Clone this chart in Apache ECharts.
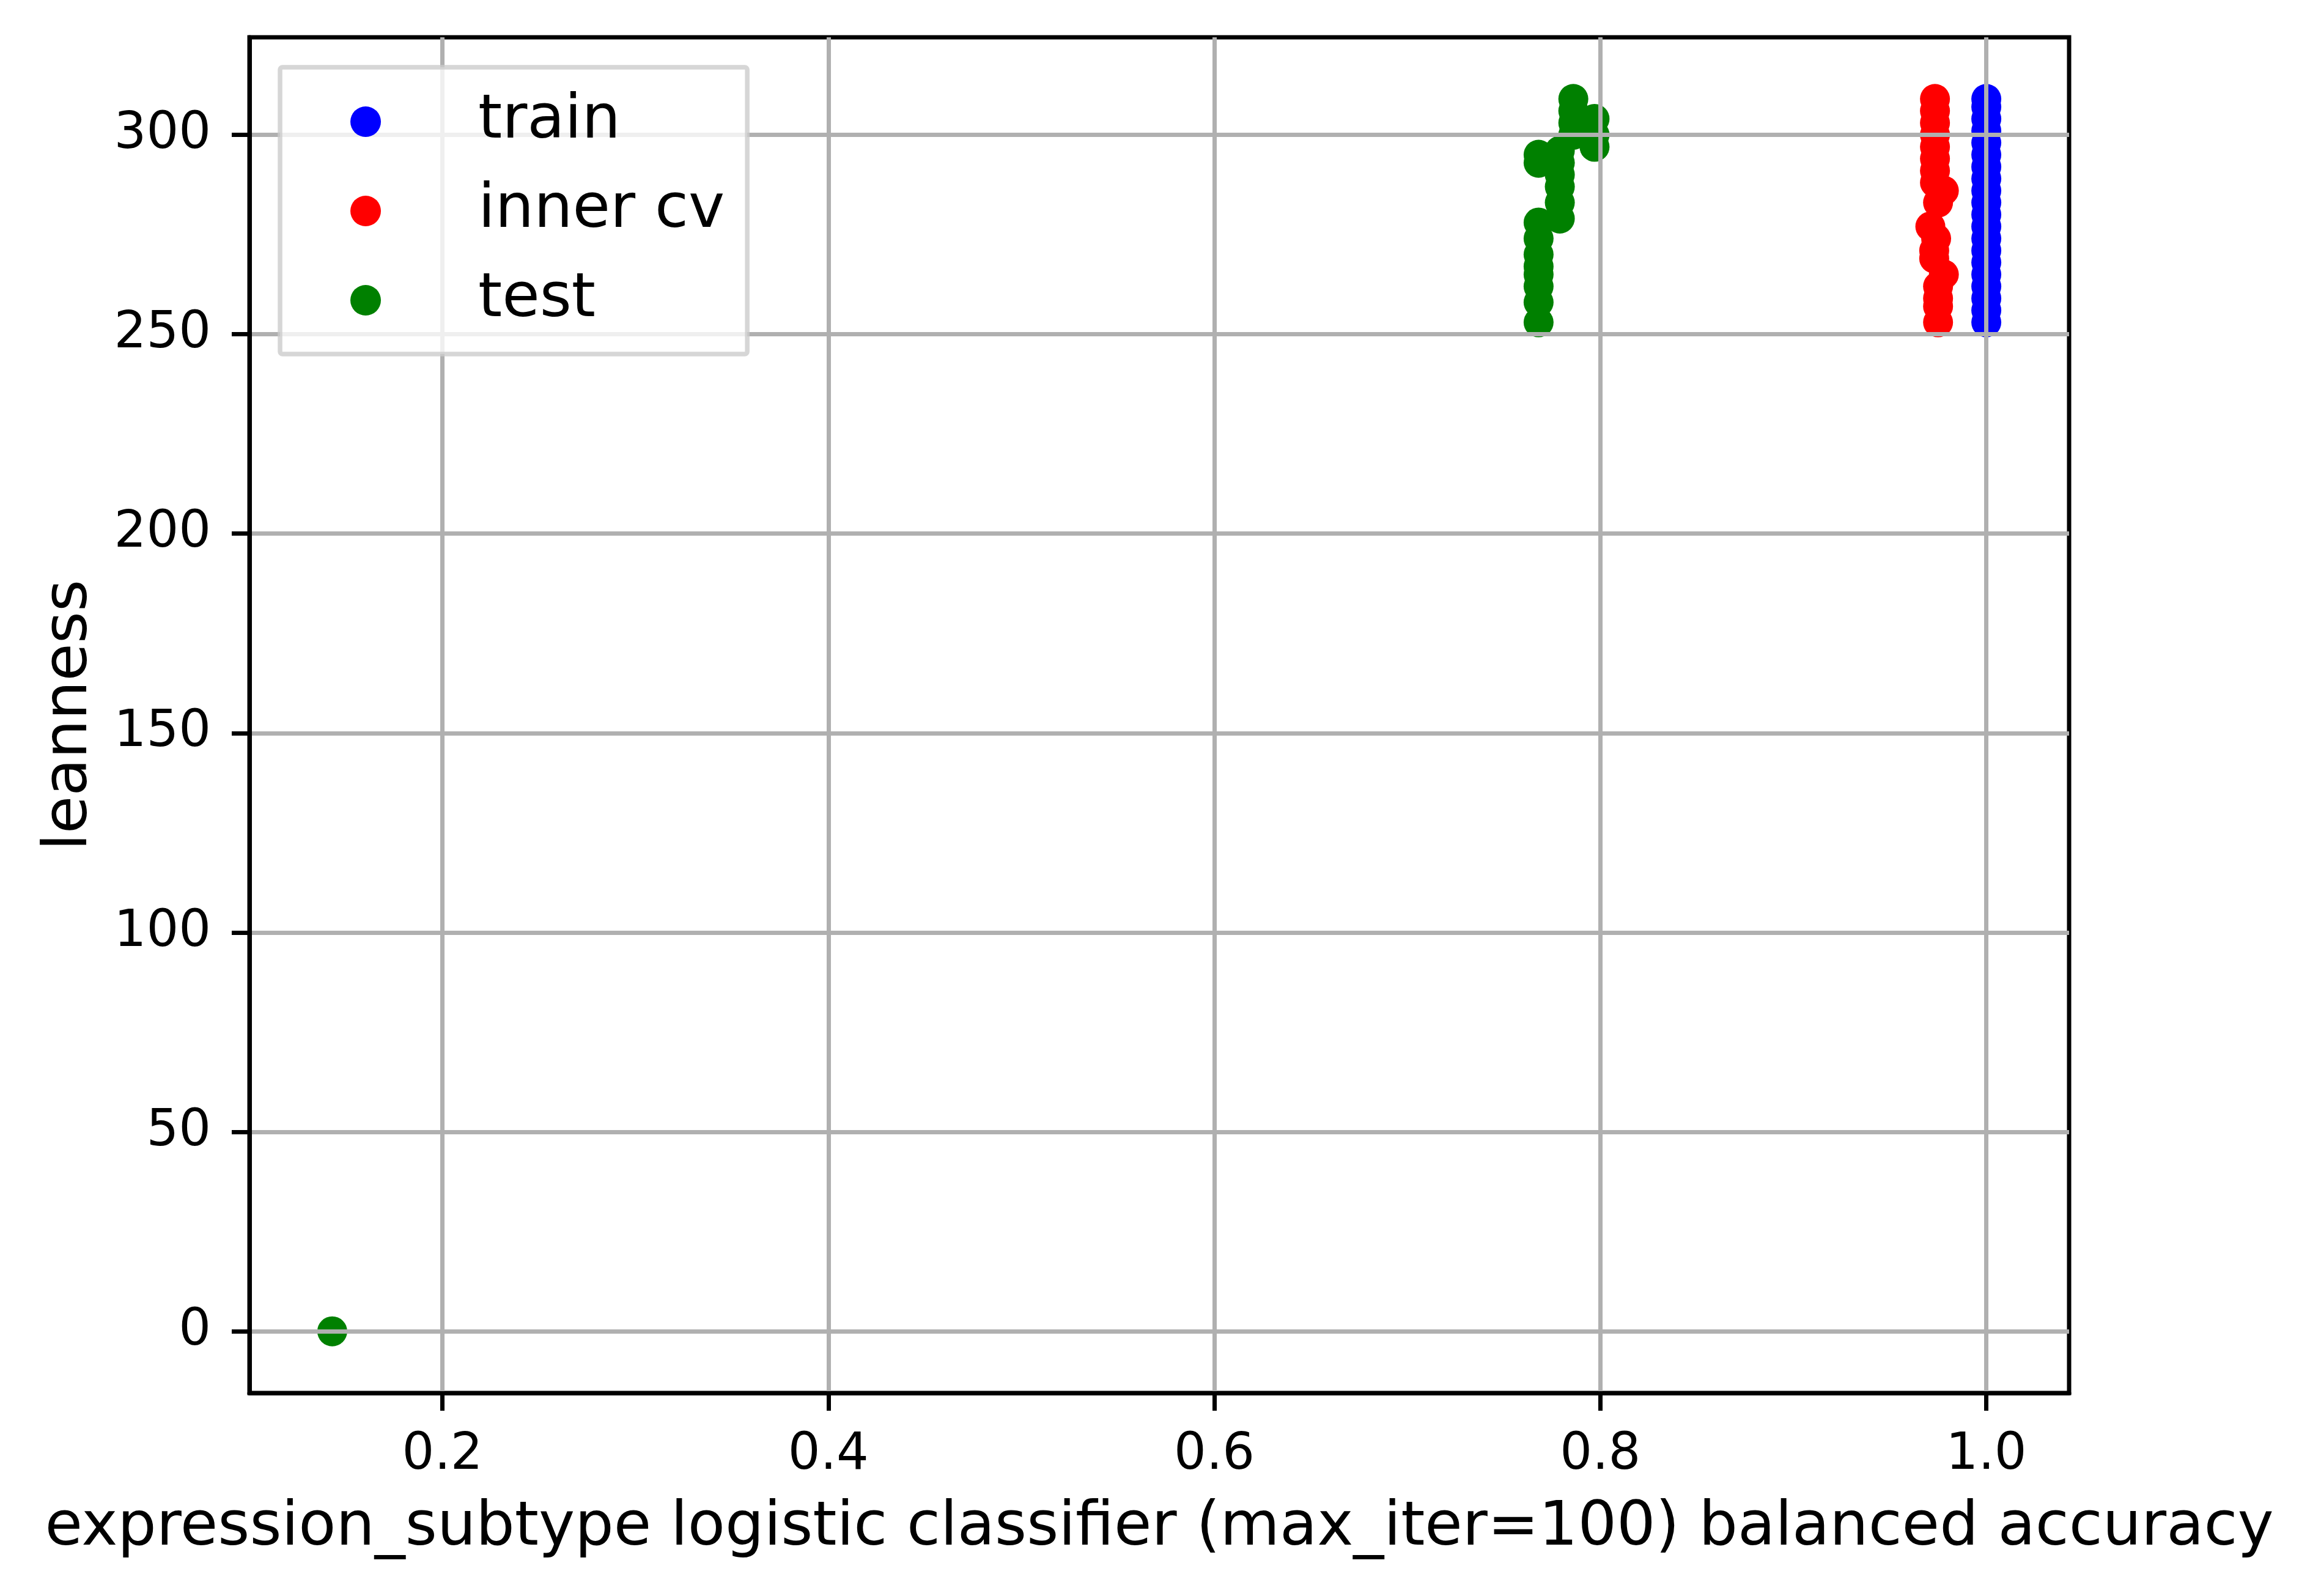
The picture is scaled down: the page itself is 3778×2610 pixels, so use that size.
<!DOCTYPE html>
<html>
<head>
<meta charset="utf-8">
<script src="https://cdn.jsdelivr.net/npm/echarts@6/dist/echarts.min.js"></script>
<style>
html,body{margin:0;padding:0;background:#fff;}
#chart{width:3778px;height:2610px;}
</style>
</head>
<body>
<div id="chart"></div>
<script>
// ---- data (balanced accuracy, leanness) ----
const seriesNames = ['train', 'inner cv', 'test'];
const trainData = [
  [1.0, 253], [1.0, 256], [1.0, 259], [1.0, 262], [1.0, 265], [1.0, 268],
  [1.0, 271], [1.0, 274], [1.0, 277], [1.0, 280], [1.0, 283], [1.0, 286],
  [1.0, 289], [1.0, 292], [1.0, 295], [1.0, 298], [1.0, 301], [1.0, 304],
  [1.0, 307], [1.0, 309]
];
const innerCvData = [
  [0.9734, 309], [0.9734, 306], [0.9734, 303], [0.9734, 300], [0.9734, 297],
  [0.9734, 294], [0.9734, 291], [0.9734, 288], [0.978, 286], [0.975, 283],
  [0.971, 277], [0.974, 274], [0.973, 271], [0.973, 269], [0.978, 265],
  [0.975, 262], [0.975, 259], [0.975, 257], [0.975, 253]
];
const testData = [
  [0.1429, 0],
  [0.768, 253], [0.768, 258], [0.768, 262], [0.768, 265], [0.768, 267],
  [0.768, 270], [0.768, 274], [0.768, 278], [0.768, 293], [0.768, 295],
  [0.779, 279], [0.779, 283], [0.779, 287], [0.779, 290], [0.779, 293], [0.779, 296],
  [0.786, 300], [0.786, 303], [0.786, 306], [0.786, 309],
  [0.797, 297], [0.797, 300], [0.797, 304]
];
const xTicks = [0.2, 0.4, 0.6, 0.8, 1.0];
const yTicks = [0, 50, 100, 150, 200, 250, 300];
const colors = ['#0000ff', '#ff0000', '#008000'];

const chart = echarts.init(document.getElementById('chart'), null, {renderer: 'canvas'});
const FONT = 'DejaVu Sans';
const gridColor = '#b0b0b0';

chart.setOption({
  animation: false,
  backgroundColor: '#ffffff',
  textStyle: {fontFamily: FONT, color: '#000'},
  grid: {
    left: 408, right: 394, top: 61, bottom: 332,
    show: true, borderColor: '#000', borderWidth: 7, backgroundColor: 'transparent'
  },
  legend: {
    data: seriesNames,
    orient: 'vertical',
    left: 458, top: 110,
    padding: [39, 37, 38, 115],
    itemWidth: 50, itemHeight: 50, itemGap: 46,
    icon: 'circle',
    backgroundColor: 'rgba(255,255,255,0.8)',
    borderColor: 'rgba(204,204,204,0.8)',
    borderWidth: 7.5,
    borderRadius: 4,
    textStyle: {fontFamily: FONT, fontSize: 100, color: '#000', lineHeight: 50, padding: [0, 0, 0, 154]},
    z: 10
  },
  xAxis: {
    type: 'value',
    min: 0.1, max: 1.0429,
    z: 3,
    name: 'expression_subtype logistic classifier (max_iter=100) balanced accuracy',
    nameLocation: 'middle',
    nameGap: 172,
    nameTextStyle: {fontFamily: FONT, fontSize: 100, color: '#000'},
    axisLine: {show: true, onZero: false, lineStyle: {color: '#000', width: 7}},
    axisTick: {show: true, length: 29, lineStyle: {color: '#000', width: 7}, customValues: xTicks},
    axisLabel: {show: true, fontFamily: FONT, fontSize: 83, color: '#000', margin: 61,
      customValues: xTicks, formatter: v => v.toFixed(1)},
    splitLine: {show: true, lineStyle: {color: gridColor, width: 7}}
  },
  yAxis: {
    type: 'value',
    min: -15.45, max: 324.45,
    z: 3,
    name: 'leanness',
    nameLocation: 'middle',
    nameRotate: 90,
    nameGap: 243,
    nameTextStyle: {fontFamily: FONT, fontSize: 100, color: '#000'},
    axisLine: {show: true, onZero: false, lineStyle: {color: '#000', width: 7}},
    axisTick: {show: true, length: 29, lineStyle: {color: '#000', width: 7}, customValues: yTicks},
    axisLabel: {show: true, fontFamily: FONT, fontSize: 83, color: '#000', margin: 63,
      customValues: yTicks, formatter: v => String(Math.round(v))},
    splitLine: {show: true, lineStyle: {color: gridColor, width: 7}}
  },
  series: [
    {name: seriesNames[0], type: 'scatter', data: trainData, symbol: 'circle', symbolSize: 49,
     itemStyle: {color: colors[0], opacity: 1}, z: 2},
    {name: seriesNames[1], type: 'scatter', data: innerCvData, symbol: 'circle', symbolSize: 49,
     itemStyle: {color: colors[1], opacity: 1}, z: 2},
    {name: seriesNames[2], type: 'scatter', data: testData, symbol: 'circle', symbolSize: 49,
     itemStyle: {color: colors[2], opacity: 1}, z: 2}
  ]
});
</script>
</body>
</html>
